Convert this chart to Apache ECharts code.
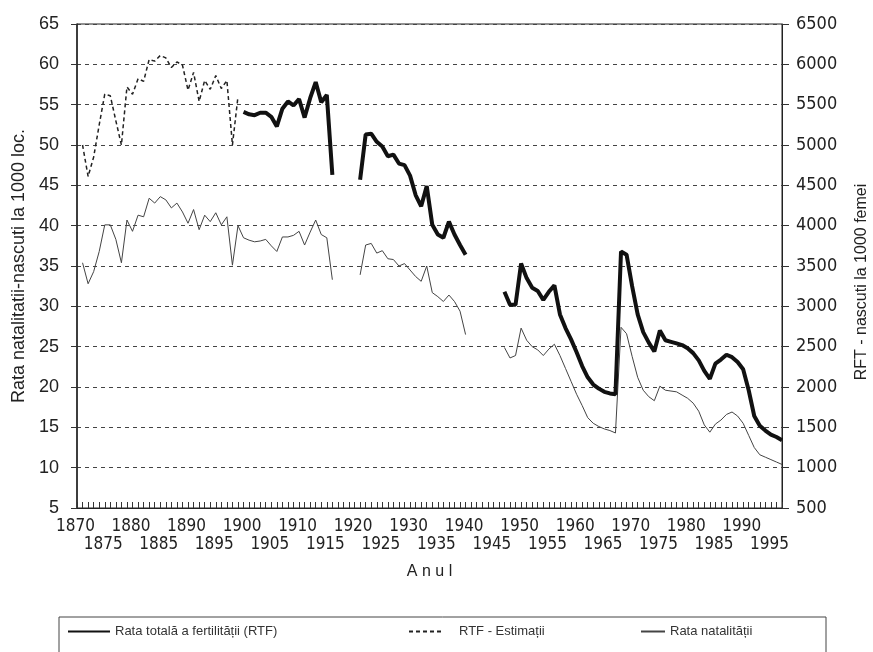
<!DOCTYPE html>
<html>
<head>
<meta charset="utf-8">
<script src="https://cdn.jsdelivr.net/npm/echarts@6/dist/echarts.min.js"></script>
<style>
  html, body { margin: 0; padding: 0; background: #fff; }
  #chart { width: 873px; height: 652px; }
</style>
</head>
<body>
<div id="chart"></div>
<script>
// Rata natalitatii (nascuti la 1000 locuitori), one value per year
const birthStart1 = 1870;
const birth1 = [
  35.4, 32.8, 34.3, 36.8, 40.1, 40.1, 38.3, 35.4, 40.7, 39.3,
  41.3, 41.1, 43.4, 42.8, 43.6, 43.2, 42.2, 42.8, 41.7, 40.3,
  42.0, 39.5, 41.3, 40.5, 41.6, 40.1, 41.1, 35.1, 40.0, 38.5,
  38.2, 38.0, 38.1, 38.3, 37.5, 36.8, 38.6, 38.6, 38.8, 39.3,
  37.6, 39.2, 40.7, 38.9, 38.5, 33.3
];
const birthStart2 = 1920;
const birth2 = [
  33.9, 37.6, 37.8, 36.6, 36.9, 35.9, 35.8, 35.0, 35.3, 34.5,
  33.7, 33.1, 35.0, 31.7, 31.2, 30.6, 31.4, 30.6, 29.4, 26.5
];
const birthStart3 = 1946;
const birth3 = [
  24.9, 23.6, 23.9, 27.3, 25.8, 25.0, 24.6, 23.9, 24.7, 25.3,
  23.9, 22.3, 20.7, 19.1, 17.7, 16.2, 15.5, 15.1, 14.8, 14.6,
  14.3, 27.4, 26.6, 23.8, 21.2, 19.6, 18.8, 18.3, 20.1, 19.6,
  19.5, 19.4, 19.0, 18.6, 18.0, 17.0, 15.3, 14.4, 15.4, 15.9,
  16.6, 16.9, 16.4, 15.5, 14.0, 12.5, 11.6, 11.3, 11.0, 10.7,
  10.4
];

// RTF (nascuti la 1000 femei)
const rtfStart1 = 1899;
const rtf1 = [
  5410, 5380, 5370, 5400, 5400, 5350, 5230, 5450, 5540, 5490,
  5570, 5340, 5580, 5780, 5530, 5620, 4630
];
const rtfStart2 = 1920;
const rtf2 = [
  4570, 5130, 5140, 5040, 4980, 4860, 4880, 4770, 4750, 4620,
  4380, 4240, 4490, 4010, 3890, 3850, 4050, 3890, 3760, 3640
];
const rtfStart3 = 1946;
const rtf3 = [
  3180, 3020, 3020, 3530, 3350, 3230, 3190, 3080, 3180, 3260,
  2900, 2730, 2590, 2430, 2260, 2120, 2030, 1980, 1940, 1920,
  1910, 3680, 3640, 3250, 2900, 2680, 2550, 2440, 2700, 2580,
  2560, 2540, 2520, 2480, 2420, 2330, 2200, 2100, 2290, 2340,
  2400, 2370, 2310, 2220, 1960, 1640, 1520, 1460, 1410, 1380,
  1340
];

// RTF - estimatii
const rtfEstStart = 1870;
const rtfEst = [
  5000, 4610, 4850, 5250, 5630, 5610, 5300, 5000, 5720, 5630,
  5820, 5790, 6060, 6040, 6110, 6080, 5960, 6030, 5990, 5680,
  5900, 5540, 5800, 5690, 5860, 5700, 5800, 5000, 5600
];

function pairs(start, values) {
  return values.map((v, i) => [start + i, v]);
}
// join segments with a null point so the line breaks in the gap
function withGaps(...segs) {
  let out = [];
  segs.forEach((s, k) => {
    if (k > 0) out.push([out[out.length - 1][0] + 1, null]);
    out = out.concat(s);
  });
  return out;
}

const birthData = withGaps(pairs(birthStart1, birth1), pairs(birthStart2, birth2), pairs(birthStart3, birth3));
const rtfData = withGaps(pairs(rtfStart1, rtf1), pairs(rtfStart2, rtf2), pairs(rtfStart3, rtf3));
const rtfEstData = pairs(rtfEstStart, rtfEst);

const chart = echarts.init(document.getElementById("chart"));
const txt = "#222";
const font = "Liberation Sans, Arial, sans-serif";
const narrow = "Liberation Sans Narrow, DejaVu Sans Condensed, Liberation Sans, sans-serif";

const legendBase = {
  padding: 0, itemHeight: 14, top: 625,
  itemStyle: { opacity: 0 },
  textStyle: { color: "#333", fontSize: 13, fontFamily: font },
};

chart.setOption({
  animation: false,
  backgroundColor: "#fff",
  grid: {
    left: 77, right: 91, top: 24, bottom: 144,
    outerBoundsMode: "none",
    containLabel: false,
    show: true, borderColor: "#222", borderWidth: 1,
    backgroundColor: "transparent",
  },
  xAxis: {
    type: "value",
    min: 1869,
    max: 1996,
    interval: 1,
    name: "A n u l",
    nameLocation: "middle",
    nameGap: 56,
    nameTextStyle: { color: txt, fontSize: 16, fontFamily: font },
    axisLine: { show: true, lineStyle: { color: "#222", width: 1 } },
    axisTick: { show: true, inside: true, length: 6, lineStyle: { color: "#333" } },
    splitLine: { show: false },
    axisLabel: {
      color: txt, fontSize: 17, fontFamily: narrow, margin: 10, lineHeight: 18,
      padding: [0, 14, 0, 0],
      formatter: (v) => (v % 10 === 0 ? String(v) : v % 5 === 0 ? "\n" + v : ""),
    },
  },
  yAxis: [
    {
      type: "value",
      min: 5, max: 65, interval: 5,
      position: "left",
      name: "Rata natalitatii-nascuti la 1000 loc.",
      nameLocation: "middle",
      nameRotate: 90,
      nameGap: 49,
      nameTextStyle: { color: txt, fontSize: 18, fontFamily: font },
      axisLine: { show: true, lineStyle: { color: "#222", width: 1.5 } },
      axisTick: { show: true, length: 6, lineStyle: { color: "#333" } },
      axisLabel: { color: txt, fontSize: 18, fontFamily: font, margin: 18 },
      splitLine: { show: true, lineStyle: { color: "#444", width: 1, type: [4, 4] } },
    },
    {
      type: "value",
      min: 500, max: 6500, interval: 500,
      position: "right",
      name: "RFT - nascuti la 1000 femei",
      nameLocation: "middle",
      nameRotate: 90,
      nameGap: 72,
      nameTextStyle: { color: txt, fontSize: 16, fontFamily: font, padding: [0, 32, 0, 0] },
      axisLine: { show: true, lineStyle: { color: "#222", width: 1 } },
      axisTick: { show: true, length: 7, lineStyle: { color: "#333" } },
      axisLabel: {
        color: txt, fontSize: 18, fontFamily: narrow, margin: 14,
        formatter: (v) => String(v),
      },
      splitLine: { show: false },
    },
  ],
  legend: [
    Object.assign({}, legendBase, {
      data: ["Rata totală a fertilității (RTF)"], left: 67, itemWidth: 42,
    }),
    Object.assign({}, legendBase, {
      data: ["RTF - Estimații"], left: 408, itemWidth: 33,
      textStyle: Object.assign({}, legendBase.textStyle, { padding: [0, 0, 0, 12] }),
    }),
    Object.assign({}, legendBase, {
      data: ["Rata natalității"], left: 640, itemWidth: 24,
    }),
  ],
  graphic: [
    {
      type: "rect",
      shape: { x: 59, y: 617, width: 767, height: 60 },
      style: { fill: "none", stroke: "#444", lineWidth: 1 },
      silent: true,
    },
  ],
  series: [
    {
      name: "Rata natalității",
      type: "line",
      yAxisIndex: 0,
      symbol: "none",
      data: birthData,
      lineStyle: { color: "#444", width: 1 },
      itemStyle: { color: "#444" },
      z: 2,
    },
    {
      name: "RTF - Estimații",
      type: "line",
      yAxisIndex: 1,
      symbol: "none",
      data: rtfEstData,
      lineStyle: { color: "#222", width: 1.5, type: [4, 3] },
      itemStyle: { color: "#222" },
      z: 3,
    },
    {
      name: "Rata totală a fertilității (RTF)",
      type: "line",
      yAxisIndex: 1,
      symbol: "none",
      data: rtfData,
      lineStyle: { color: "#111", width: 4 },
      itemStyle: { color: "#111" },
      z: 4,
    },
  ],
});
</script>
</body>
</html>
